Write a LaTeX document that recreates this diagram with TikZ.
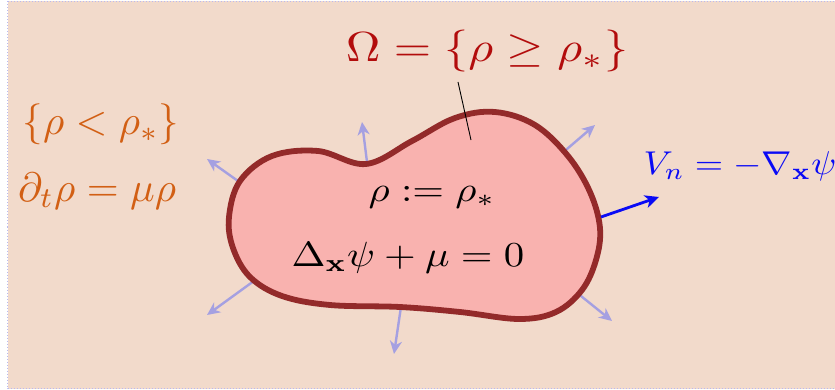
\documentclass[tikz,border=0pt]{standalone}
\usepackage{amsmath,amssymb}
\usepackage{graphicx}
\usetikzlibrary{arrows.meta}
\definecolor{bgc}{RGB}{242,218,203}
\definecolor{blobfill}{RGB}{249,178,175}
\definecolor{blobline}{RGB}{147,42,42}
\definecolor{arrc}{RGB}{165,160,225}
\definecolor{orangec}{RGB}{210,95,20}
\definecolor{redc}{RGB}{178,12,12}
\definecolor{borderc}{RGB}{185,185,240}
\definecolor{bluec}{RGB}{10,10,245}
\tikzset{
  lbl/.style={inner sep=0pt, anchor=base},
  normarrow/.style={arrc, line width=2.4pt, -{Stealth[length=13pt,width=12pt,inset=4pt]}},
  velarrow/.style={bluec, line width=2.8pt, -{Stealth[length=14pt,width=13pt,inset=4pt]}},
  blob/.style={draw=blobline, fill=blobfill, line width=5.8pt},
}
\begin{document}
\begin{tikzpicture}[x=1pt,y=-1pt]
\useasboundingbox (0,0) rectangle (835,390);
\draw[borderc, dotted, line width=1pt, fill=bgc] (7.5,1.5) rectangle (836,388.5);

% normal arrows (drawn beneath the blob)
\coordinate (a1s) at (245,186); \coordinate (a1e) at (207,159);
\coordinate (a2s) at (368,170); \coordinate (a2e) at (362,122);
\coordinate (a3s) at (560,155); \coordinate (a3e) at (595,125);
\coordinate (a4s) at (576,292); \coordinate (a4e) at (612,321);
\coordinate (a5s) at (402,300); \coordinate (a5e) at (394,354);
\coordinate (a6s) at (258,278); \coordinate (a6e) at (207,315);
\foreach \i in {1,...,6} \draw[normarrow] (a\i s) -- (a\i e);

% the blob
\path[blob] plot[smooth cycle, tension=0.6] coordinates {
  (229,217) (233,248) (250,277) (282,296) (330,305)
  (400,307) (460,312) (519,319) (556,312) (582,290) (596,260)
  (600,228) (590,192) (568,156) (535,125) (495,112)
  (455,118) (412,141) (366,164) (318,151)
  (272,156) (240,181)};

% velocity arrow
\coordinate (vs) at (601,217); \coordinate (ve) at (659,197);
\draw[velarrow] (vs) -- (ve);

% label pointer
\coordinate (ps) at (458,82); \coordinate (pe) at (471,140);
\draw[black, line width=0.9pt] (ps) -- (pe);

% texts
\node[lbl, text=redc] (om) at (487,62)
  {\scalebox{4.8}[4.2]{$\Omega=\{\rho\geq\rho_*\}$}};
\node[lbl, text=orangec] (out1) at (101,135)
  {\scalebox{4.1}{$\{\rho<\rho_*\}$}};
\node[lbl, text=orangec] (out2) at (97,201)
  {\scalebox{4.1}{$\partial_t\rho=\mu\rho$}};
\node[lbl] (in1) at (432,201)
  {\scalebox{4.08}[3.5]{$\rho:=\rho_*$}};
\node[lbl] (in2) at (408,266)
  {\scalebox{4.08}[3.5]{$\Delta_{\mathbf{x}}\psi+\mu=0$}};
\node[lbl, text=bluec] (vn) at (740,175)
  {\scalebox{3.65}[3.3]{$V_n=-\nabla_{\mathbf{x}}\psi$}};
\end{tikzpicture}
\end{document}
